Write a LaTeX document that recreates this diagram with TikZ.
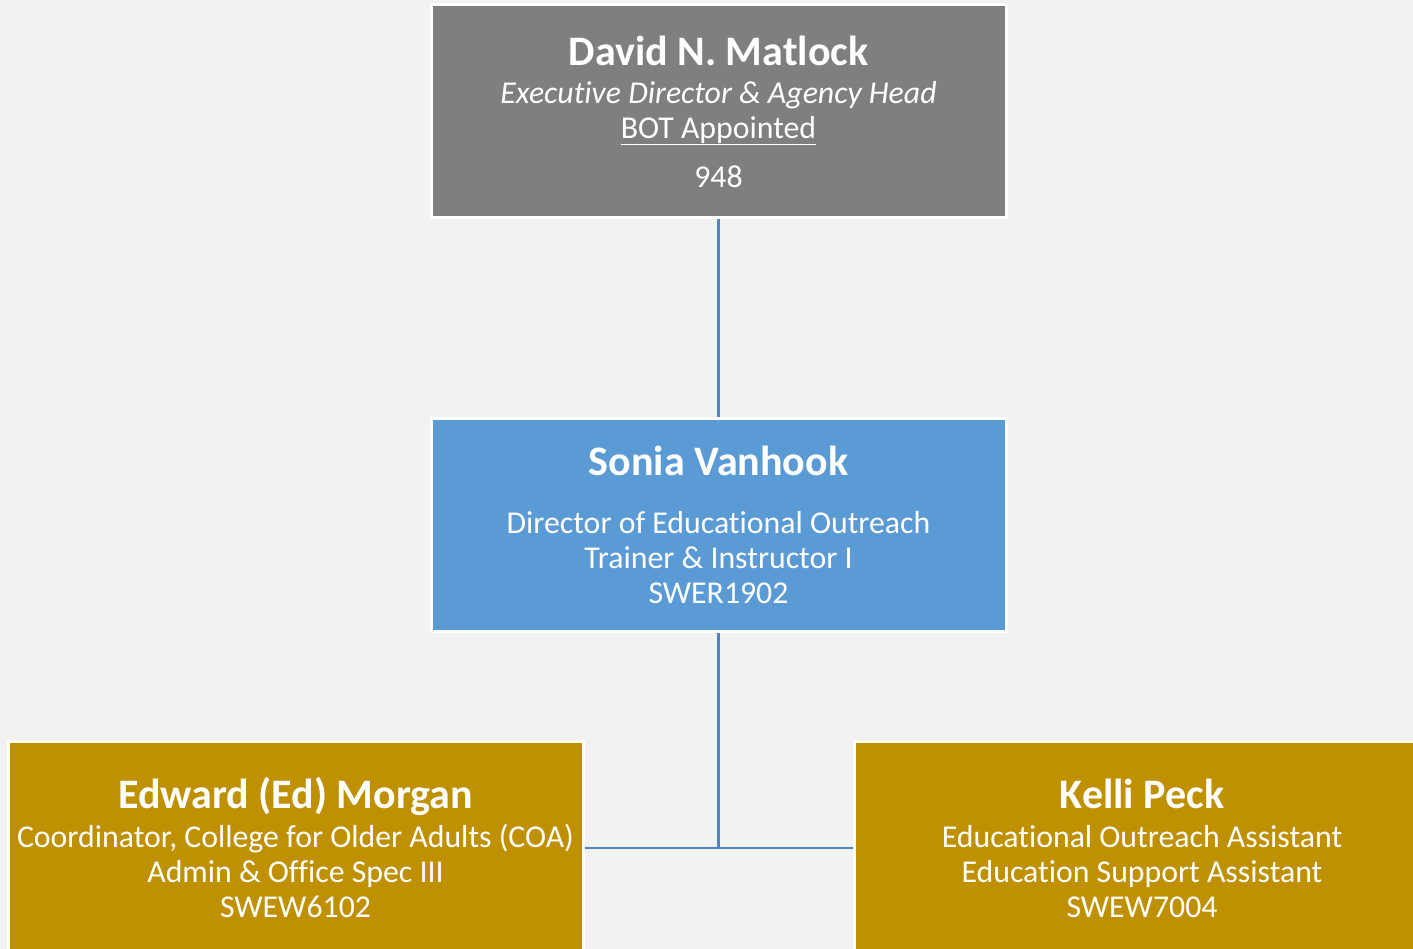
\documentclass[tikz,border=0pt]{standalone}
\usepackage{fontspec}
\setmainfont{Carlito}[Ligatures=NoCommon]
\usepackage{tikz}
\definecolor{pagebg}{HTML}{F2F2F2}
\definecolor{headgray}{HTML}{7F7F7F}
\definecolor{dirblue}{HTML}{5B9BD5}
\definecolor{staffgold}{HTML}{BF9000}
\definecolor{linkblue}{HTML}{4E85C2}
\def\namefont{\fontsize{42}{35}\selectfont\bfseries}
\def\rolefont{\fontsize{31.8}{35}\selectfont}

\begin{document}
\begin{tikzpicture}[x=1pt,y=-1pt,
	box/.style={draw=white,line width=3pt,text=white,align=center,
		minimum width=575pt,minimum height=213pt,inner sep=0pt,
		font=\rolefont},
	link/.style={draw=linkblue,line width=2.5pt}]
			\fill[pagebg] (0,0) rectangle (1413,949);
			\useasboundingbox (0,0) rectangle (1413,949);
			\node[box,fill=headgray] (head) at (718.5,111.5)
				{{\namefont David N. Matlock}\\[3pt]
				\textit{Executive Director \& Agency Head}\\
				\underline{BOT Appointed}\\[14pt]
				948};
			\node[box,fill=dirblue] (director) at (718.5,524.5)
				{{\namefont Sonia Vanhook}\\[23pt]
				Director of Educational Outreach\\
				Trainer \& Instructor I\\
				SWER1902};
			\node[box,fill=staffgold] (morgan) at (295.5,848)
				{{\namefont Edward (Ed) Morgan}\\[4pt]
				Coordinator, College for Older Adults (COA)\\
				Admin \& Office Spec III\\
				SWEW6102};
			\node[box,fill=staffgold] (peck) at (1142,848)
				{{\namefont Kelli Peck}\\[4pt]
				Educational Outreach Assistant\\
				Education Support Assistant\\
				SWEW7004};
			\coordinate (split) at (director.south |- morgan.east);
			\draw[link] (head.south) -- (director.north);
			\draw[link] (director.south) -- (split);
			\draw[link] (morgan.east) -- (peck.west);
		\end{tikzpicture}
\end{document}
